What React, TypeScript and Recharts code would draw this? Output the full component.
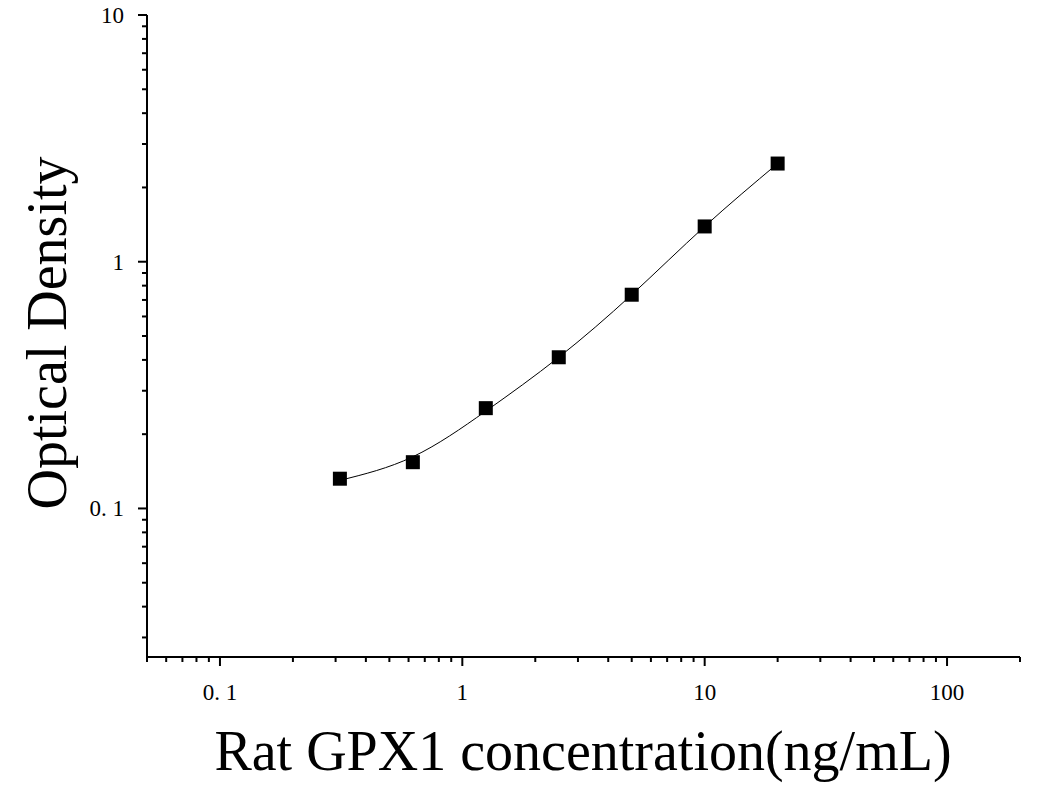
import { ComposedChart, Line, XAxis, YAxis } from "recharts";

const concentrations = [0.3125, 0.625, 1.25, 2.5, 5, 10, 20];
const opticalDensity = [0.132, 0.154, 0.255, 0.41, 0.735, 1.39, 2.5];
const fittedCurve = [0.13, 0.162, 0.248, 0.41, 0.735, 1.39, 2.5];

const xMajor = [0.1, 1, 10, 100];
const xTicks = [0.05, 0.06, 0.07, 0.08, 0.09, 0.1, 0.2, 0.3, 0.4, 0.5, 0.6, 0.7, 0.8, 0.9, 1, 2, 3, 4, 5, 6, 7, 8, 9, 10, 20, 30, 40, 50, 60, 70, 80, 90, 100, 200];
const yMajor = [0.1, 1, 10];
const yTicks = [0.03, 0.04, 0.05, 0.06, 0.07, 0.08, 0.09, 0.1, 0.2, 0.3, 0.4, 0.5, 0.6, 0.7, 0.8, 0.9, 1, 2, 3, 4, 5, 6, 7, 8, 9, 10];
const tickLabels: Record<string, string> = { "0.1": "0. 1", "1": "1", "10": "10", "100": "100" };

const data = concentrations.map((c, i) => ({ conc: c, od: opticalDensity[i], fit: fittedCurve[i] }));

const FONT = "'Liberation Serif', 'Times New Roman', serif";

function XTick(props: any) {
  const { x, y, payload } = props;
  const major = xMajor.includes(payload.value);
  return (
    <g>
      <line x1={x} x2={x} y1={y} y2={y + (major ? 9 : 5)} stroke="#000" strokeWidth={2} />
      {major && (
        <text x={x} y={y + 43} textAnchor="middle" fontSize={23} fontFamily={FONT} fill="#000">
          {tickLabels[String(payload.value)]}
        </text>
      )}
    </g>
  );
}

function YTick(props: any) {
  const { x, y, payload } = props;
  const major = yMajor.includes(payload.value);
  return (
    <g>
      <line x1={x} x2={x - (major ? 9 : 5)} y1={y} y2={y} stroke="#000" strokeWidth={2} />
      {major && (
        <text x={x - 23} y={y + 8} textAnchor="end" fontSize={23} fontFamily={FONT} fill="#000">
          {tickLabels[String(payload.value)]}
        </text>
      )}
    </g>
  );
}

function Square(props: any) {
  const { cx, cy, index } = props;
  return <rect key={index} x={cx - 7} y={cy - 7} width={14} height={14} fill="#000" />;
}

export default function App() {
  return (
    <div style={{ position: "absolute", left: 0, top: 0, background: "#fff" }}>
      <ComposedChart
        width={1047}
        height={785}
        data={data}
        margin={{ top: 15, right: 27, bottom: 68, left: 87 }}
      >
        <XAxis
          dataKey="conc"
          type="number"
          scale="log"
          domain={[0.05, 200]}
          allowDataOverflow
          ticks={xTicks}
          interval={0}
          tickSize={0}
          tickMargin={0}
          tickLine={false}
          tick={<XTick />}
          height={60}
          axisLine={{ stroke: "#000", strokeWidth: 2 }}
        />
        <YAxis
          type="number"
          scale="log"
          domain={[0.025, 10]}
          allowDataOverflow
          ticks={yTicks}
          interval={0}
          tickSize={0}
          tickMargin={0}
          tickLine={false}
          tick={<YTick />}
          width={60}
          axisLine={{ stroke: "#000", strokeWidth: 2 }}
        />
        <Line
          dataKey="fit"
          type="natural"
          stroke="#000"
          strokeWidth={1}
          dot={false}
          activeDot={false}
          isAnimationActive={false}
        />
        <Line
          dataKey="od"
          stroke="none"
          dot={<Square />}
          activeDot={false}
          isAnimationActive={false}
        />
        <text x={47} y={333} transform="rotate(-90 47 333)" textAnchor="middle" dominantBaseline="central" fontSize={56} fontFamily={FONT} fill="#000">
          Optical Density
        </text>
        <text x={583} y={770} textAnchor="middle" fontSize={56} fontFamily={FONT} fill="#000">
          Rat GPX1 concentration(ng/mL)
        </text>
      </ComposedChart>
    </div>
  );
}
